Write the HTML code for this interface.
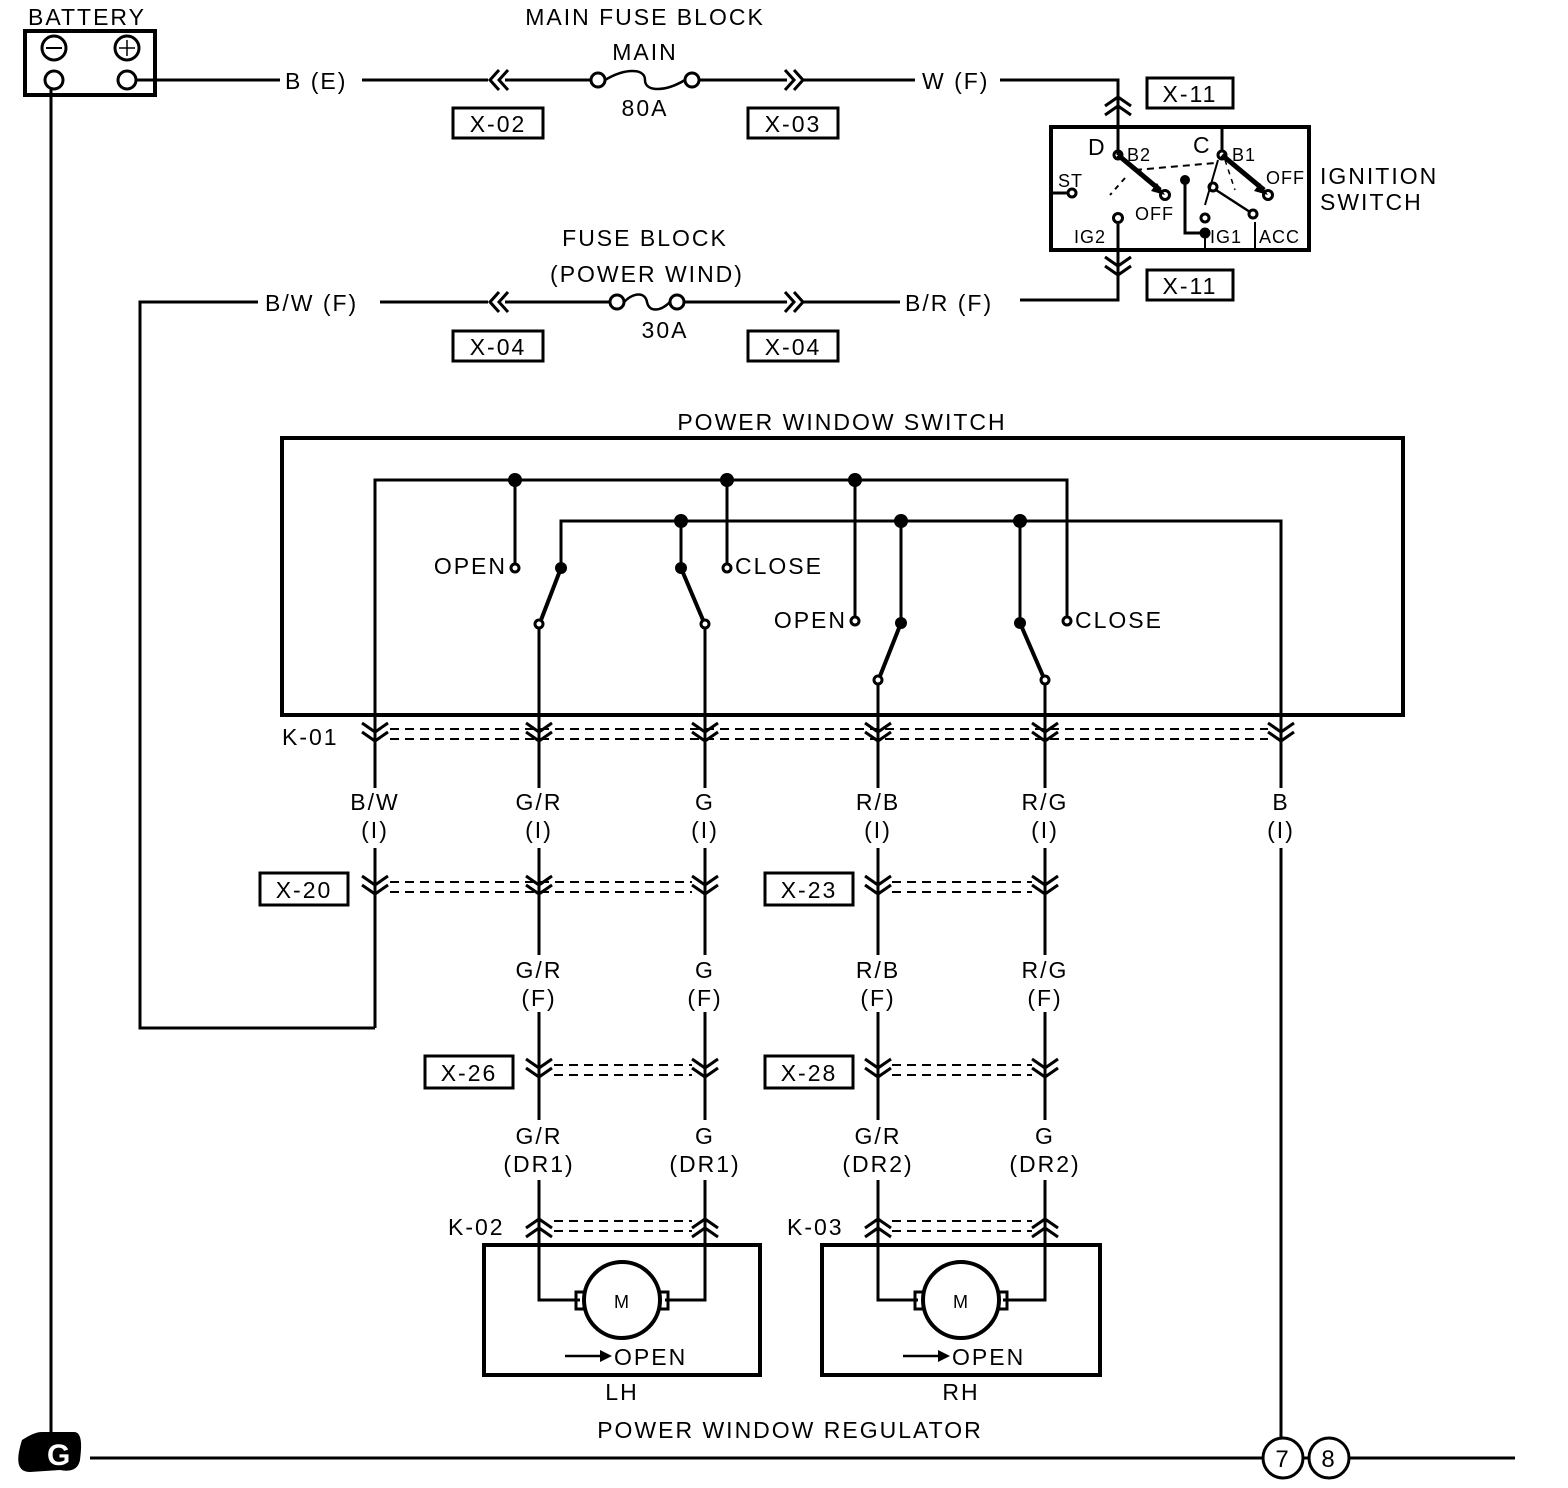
<!DOCTYPE html>
<html><head><meta charset="utf-8"><style>
html,body{margin:0;padding:0;background:#fff}
svg{display:block}
text{font-family:"Liberation Sans",sans-serif;font-size:23px;fill:#000;letter-spacing:2px}
.s{font-size:18px;letter-spacing:1px}
</style></head><body>
<svg width="1568" height="1488" viewBox="0 0 1568 1488" xmlns="http://www.w3.org/2000/svg">
<defs>
<path id="cd" d="M-13,-11 L0,-2 L13,-11 M-13,-2 L0,7 L13,-2" fill="none" stroke="#000" stroke-width="3"/>
<path id="cu" d="M-13,11 L0,2 L13,11 M-13,2 L0,-7 L13,2" fill="none" stroke="#000" stroke-width="3"/>
<path id="cl" d="M9,-10 L0,0 L9,10 M18,-10 L9,0 L18,10" fill="none" stroke="#000" stroke-width="3"/>
<path id="cr" d="M0,-10 L9,0 L0,10 M9,-10 L18,0 L9,10" fill="none" stroke="#000" stroke-width="3"/>
</defs>
<g fill="none" stroke="#000" stroke-width="3">
<rect x="25" y="31" width="130" height="64" stroke-width="4"/>
<circle cx="54" cy="48" r="12"/><circle cx="127" cy="48" r="12"/>
<line x1="46" y1="48" x2="62" y2="48" stroke-width="2"/><line x1="119" y1="48" x2="135" y2="48" stroke-width="1.5"/><line x1="127" y1="40" x2="127" y2="56" stroke-width="1.5"/>
<circle cx="54" cy="80" r="9"/><circle cx="127" cy="80" r="9"/>
<line x1="51" y1="89" x2="51" y2="1440"/>
<path d="M136,80 H280 M362,80 H488 M505,80 H591 M699,80 H787 M802,80 H915 M1000,80 H1118 V127"/>
<circle cx="598" cy="80" r="7"/><circle cx="692" cy="80" r="7"/>
<path d="M605,80 C625,68 645,68 645,80 C645,92 665,92 685,80" stroke-width="2.5"/>
<rect x="453" y="108" width="90" height="30"/><rect x="748" y="108" width="90" height="30"/>
<rect x="1147" y="78" width="86" height="30"/>
<rect x="1051" y="127" width="258" height="123" stroke-width="4"/>
<path d="M1118,127 V155 M1118,224 V300 H1020"/>
<rect x="1147" y="270" width="86" height="30"/>
<circle cx="1118" cy="155" r="4"/>
<path d="M1118,155 L1160,190" stroke-width="5"/>
<circle cx="1165" cy="195" r="4.5"/>
<path d="M1051,193 H1068"/><circle cx="1072" cy="193" r="4"/>
<circle cx="1118" cy="218" r="4.5"/>
<path d="M1222,127 V151"/><circle cx="1222" cy="155" r="4"/>
<path d="M1222,155 L1264,190" stroke-width="5"/>
<circle cx="1268" cy="195" r="4.5"/>
<path d="M1135,170 L1215,163" stroke-dasharray="7,5" stroke-width="2"/>
<path d="M1125,178 L1110,195" stroke-dasharray="5,5" stroke-width="2"/>
<path d="M1185,180 V233 H1205"/><circle cx="1185" cy="180" r="3.5" fill="#000"/>
<circle cx="1205" cy="233" r="4" fill="#000"/>
<circle cx="1205" cy="218" r="4"/>
<path d="M1205,237 V250 M1255,222 V250 M1218,160 L1205,205" stroke-width="2"/>
<circle cx="1213" cy="187" r="4"/>
<path d="M1216,190 L1250,212" stroke-width="2.5"/>
<circle cx="1253" cy="214" r="4"/>
<path d="M1225,160 L1235,190 M1225,158 L1245,175" stroke-dasharray="5,5" stroke-width="1.5"/>
<path d="M258,302 H140 V1028 H375 M380,302 H488 M505,302 H610 M684,302 H787 M802,302 H900"/>
<circle cx="617" cy="302" r="7"/><circle cx="677" cy="302" r="7"/>
<path d="M624,302 C634,292 645,292 647,302 C649,312 660,312 670,302" stroke-width="2.5"/>
<rect x="453" y="331" width="90" height="30"/><rect x="748" y="331" width="90" height="30"/>
<rect x="282" y="438" width="1121" height="277" stroke-width="4"/>
<path d="M375,788 V480 H1067 V617"/>
<path d="M375,848 V1028"/>
<path d="M561,568 V521 H1281 V788 M1281,848 V1438"/>
<path d="M515,480 V564 M727,480 V564 M855,480 V617"/>
<path d="M681,521 V568 M901,521 V623 M1020,521 V623"/>
<path d="M561,568 L541,620 M681,568 L703,620 M901,623 L880,676 M1020,623 L1043,676" stroke-width="4"/>
<circle cx="515" cy="568" r="4"/><circle cx="727" cy="568" r="4"/><circle cx="855" cy="621" r="4"/><circle cx="1067" cy="621" r="4"/>
<circle cx="539" cy="624" r="4"/><circle cx="705" cy="624" r="4"/><circle cx="878" cy="680" r="4"/><circle cx="1045" cy="680" r="4"/>
<path d="M539,628 V788 M539,848 V955 M539,1012 V1120 M539,1180 V1300 H580"/>
<path d="M705,628 V788 M705,848 V955 M705,1012 V1120 M705,1180 V1300 H665"/>
<path d="M878,684 V788 M878,848 V955 M878,1012 V1120 M878,1180 V1300 H918"/>
<path d="M1045,684 V788 M1045,848 V955 M1045,1012 V1120 M1045,1180 V1300 H1003"/>
<g stroke-width="2" stroke-dasharray="9,6">
<path d="M390,729 H1268 M390,739 H1268"/>
<path d="M390,882 H692 M390,892 H692"/>
<path d="M892,882 H1032 M892,892 H1032"/>
<path d="M554,1065 H692 M554,1075 H692"/>
<path d="M892,1065 H1032 M892,1075 H1032"/>
<path d="M554,1221 H692 M554,1231 H692"/>
<path d="M892,1221 H1032 M892,1231 H1032"/>
</g>
<rect x="260" y="873" width="88" height="32"/><rect x="765" y="873" width="88" height="32"/>
<rect x="425" y="1056" width="88" height="32"/><rect x="765" y="1056" width="88" height="32"/>
<rect x="484" y="1245" width="276" height="130" stroke-width="4"/>
<rect x="822" y="1245" width="278" height="130" stroke-width="4"/>
<circle cx="622" cy="1300" r="38" stroke-width="4"/><circle cx="961" cy="1300" r="38" stroke-width="4"/>
<rect x="576" y="1292" width="8" height="17"/><rect x="660" y="1292" width="8" height="17"/>
<rect x="915" y="1292" width="8" height="17"/><rect x="999" y="1292" width="8" height="17"/>
<path d="M565,1356 H605 M903,1356 H943" stroke-width="2.5"/>
<path d="M90,1458 H1263 M1303,1458 H1309 M1349,1458 H1515"/>
<circle cx="1283" cy="1458" r="20"/><circle cx="1329" cy="1458" r="20"/>
</g>
<g fill="#000">
<circle cx="515" cy="480" r="7"/><circle cx="727" cy="480" r="7"/><circle cx="855" cy="480" r="7"/>
<circle cx="681" cy="521" r="7"/><circle cx="901" cy="521" r="7"/><circle cx="1020" cy="521" r="7"/>
<circle cx="561" cy="568" r="6"/><circle cx="681" cy="568" r="6"/><circle cx="901" cy="623" r="6"/><circle cx="1020" cy="623" r="6"/>
<path d="M1165,195 l-14,-4 l6,-8 z M1268,195 l-14,-4 l6,-8 z"/>
<path d="M612,1356 l-12,-6 v12 z M950,1356 l-12,-6 v12 z"/>
<path d="M22,1440 C30,1435 36,1432 42,1432 L74,1432 C82,1432 82,1445 80,1460 C78,1470 70,1472 60,1470 L30,1472 C18,1472 15,1462 22,1440 z"/>
</g>
<text x="47" y="1465" style="fill:#fff;font-size:30px;font-weight:bold">G</text>
<use href="#cl" x="490" y="80"/><use href="#cr" x="785" y="80"/>
<use href="#cl" x="490" y="302"/><use href="#cr" x="785" y="302"/>
<use href="#cu" x="1118" y="104"/><use href="#cd" x="1118" y="268"/>
<use href="#cd" x="375" y="734"/><use href="#cd" x="539" y="734"/><use href="#cd" x="705" y="734"/><use href="#cd" x="878" y="734"/><use href="#cd" x="1045" y="734"/><use href="#cd" x="1281" y="734"/>
<use href="#cd" x="375" y="887"/><use href="#cd" x="539" y="887"/><use href="#cd" x="705" y="887"/><use href="#cd" x="878" y="887"/><use href="#cd" x="1045" y="887"/>
<use href="#cd" x="539" y="1070"/><use href="#cd" x="705" y="1070"/><use href="#cd" x="878" y="1070"/><use href="#cd" x="1045" y="1070"/>
<use href="#cu" x="539" y="1226"/><use href="#cu" x="705" y="1226"/><use href="#cu" x="878" y="1226"/><use href="#cu" x="1045" y="1226"/>
<text x="28" y="25">BATTERY</text>
<text x="285" y="89">B (E)</text>
<text x="645" y="25" text-anchor="middle">MAIN FUSE BLOCK</text>
<text x="645" y="60" text-anchor="middle">MAIN</text>
<text x="645" y="116" text-anchor="middle">80A</text>
<text x="922" y="89">W (F)</text>
<text x="498" y="132" text-anchor="middle">X-02</text>
<text x="793" y="132" text-anchor="middle">X-03</text>
<text x="1190" y="102" text-anchor="middle">X-11</text>
<text x="1190" y="294" text-anchor="middle">X-11</text>
<text x="1088" y="155">D</text><text x="1193" y="153">C</text>
<text class="s" x="1127" y="161">B2</text><text class="s" x="1232" y="161">B1</text>
<text class="s" x="1058" y="187">ST</text><text class="s" x="1135" y="220">OFF</text>
<text class="s" x="1266" y="184">OFF</text>
<text class="s" x="1074" y="243">IG2</text><text class="s" x="1210" y="243">IG1</text><text class="s" x="1259" y="243">ACC</text>
<text x="1320" y="184">IGNITION</text><text x="1320" y="210">SWITCH</text>
<text x="645" y="246" text-anchor="middle">FUSE BLOCK</text>
<text x="647" y="282" text-anchor="middle">(POWER WIND)</text>
<text x="665" y="338" text-anchor="middle">30A</text>
<text x="265" y="311">B/W (F)</text>
<text x="905" y="311">B/R (F)</text>
<text x="498" y="355" text-anchor="middle">X-04</text>
<text x="793" y="355" text-anchor="middle">X-04</text>
<text x="842" y="430" text-anchor="middle">POWER WINDOW SWITCH</text>
<text x="507" y="574" text-anchor="end">OPEN</text>
<text x="735" y="574">CLOSE</text>
<text x="847" y="628" text-anchor="end">OPEN</text>
<text x="1075" y="628">CLOSE</text>
<text x="282" y="745">K-01</text>
<g text-anchor="middle">
<text x="375" y="810">B/W</text><text x="375" y="838">(I)</text>
<text x="539" y="810">G/R</text><text x="539" y="838">(I)</text>
<text x="705" y="810">G</text><text x="705" y="838">(I)</text>
<text x="878" y="810">R/B</text><text x="878" y="838">(I)</text>
<text x="1045" y="810">R/G</text><text x="1045" y="838">(I)</text>
<text x="1281" y="810">B</text><text x="1281" y="838">(I)</text>
<text x="304" y="898">X-20</text><text x="809" y="898">X-23</text>
<text x="539" y="978">G/R</text><text x="539" y="1006">(F)</text>
<text x="705" y="978">G</text><text x="705" y="1006">(F)</text>
<text x="878" y="978">R/B</text><text x="878" y="1006">(F)</text>
<text x="1045" y="978">R/G</text><text x="1045" y="1006">(F)</text>
<text x="469" y="1081">X-26</text><text x="809" y="1081">X-28</text>
<text x="539" y="1144">G/R</text><text x="539" y="1172">(DR1)</text>
<text x="705" y="1144">G</text><text x="705" y="1172">(DR1)</text>
<text x="878" y="1144">G/R</text><text x="878" y="1172">(DR2)</text>
<text x="1045" y="1144">G</text><text x="1045" y="1172">(DR2)</text>
<text x="622" y="1308" class="s">M</text><text x="961" y="1308" class="s">M</text>
<text x="622" y="1400">LH</text><text x="961" y="1400">RH</text>
<text x="790" y="1438">POWER WINDOW REGULATOR</text>
<text x="1283" y="1467" style="font-size:24px">7</text>
<text x="1329" y="1467" style="font-size:24px">8</text>
</g>
<text x="448" y="1235">K-02</text><text x="787" y="1235">K-03</text>
<text x="614" y="1365">OPEN</text><text x="952" y="1365">OPEN</text>
</svg>
</body></html>
